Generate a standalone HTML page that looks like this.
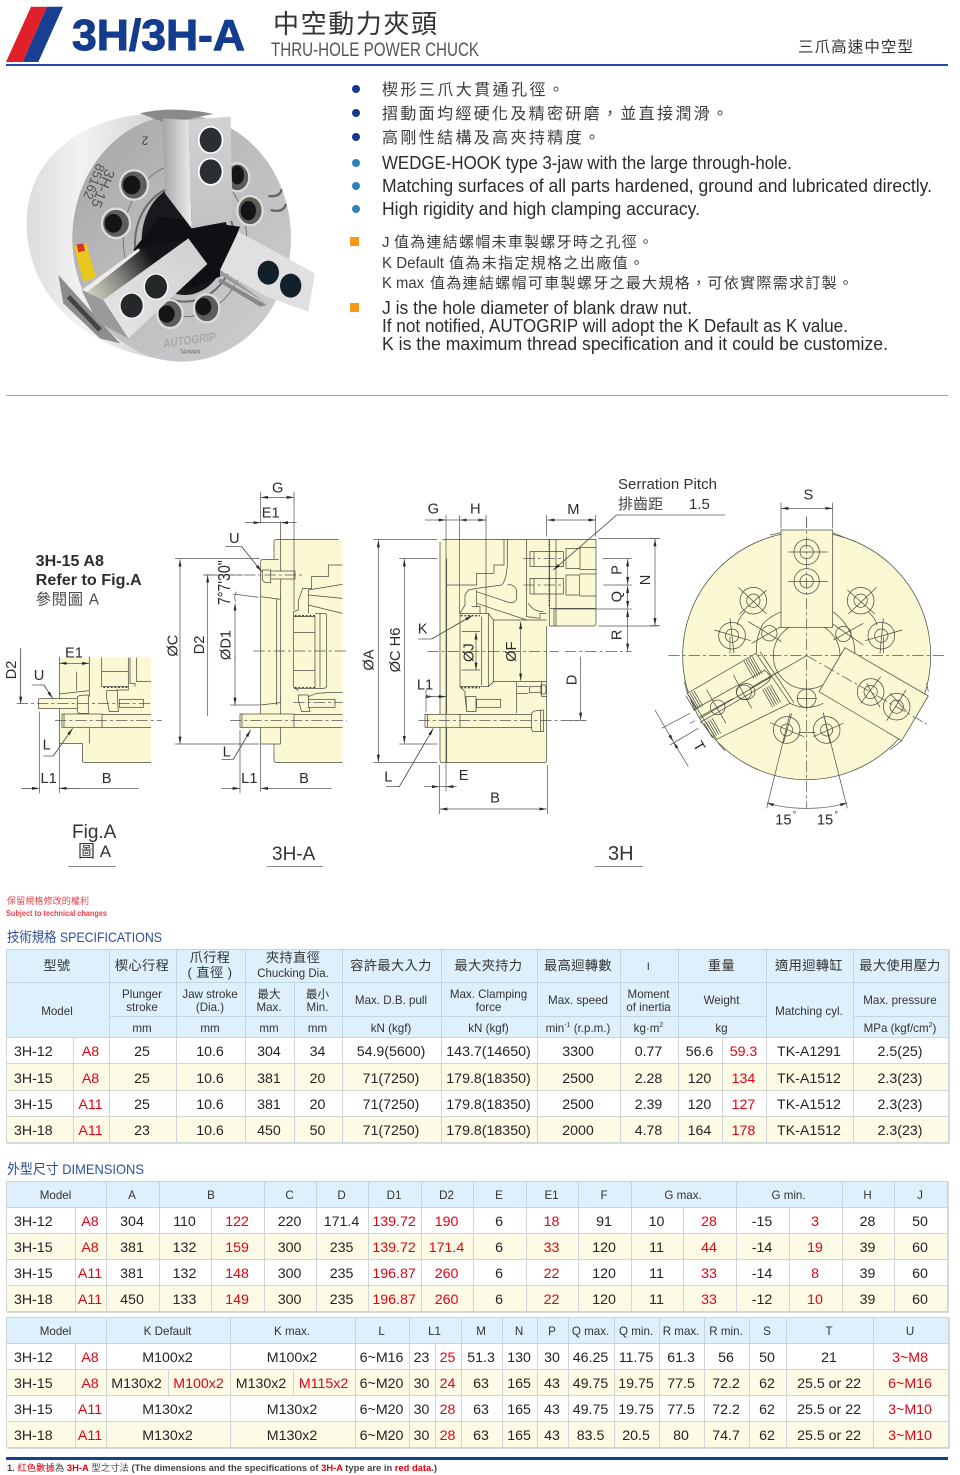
<!DOCTYPE html>
<html><head><meta charset="utf-8"><style>
html,body{margin:0;padding:0;background:#fff}
body{position:relative;width:960px;height:1475px;overflow:hidden;font-family:"Liberation Sans","Noto Sans CJK TC",sans-serif}
svg{position:absolute;left:0;top:0}
svg text{font-family:"Liberation Sans","Noto Sans CJK TC",sans-serif}
.l{stroke:#4a4a42;stroke-width:2.2;fill:none}
.k{stroke:#4a4a42;stroke-width:3;fill:none}
.dm{stroke:#555;stroke-width:2.2;fill:none}
.a{stroke:#555;stroke-width:2.2;fill:none;marker-end:url(#ar);marker-start:url(#ar)}
.e{stroke:#555;stroke-width:2.2;fill:none;marker-end:url(#ar)}
.c{stroke:#555;stroke-width:2.2;fill:none;stroke-dasharray:34 9 9 9}
.b{fill:#fbf9d4}
.i{fill:#fbf9d4;stroke:#4a4a42;stroke-width:2.2}
.t{font-size:44px;fill:#2c2c2c;text-anchor:middle;dominant-baseline:central}
.en{font-size:18px;fill:#2c2c2c}
.zh{font-size:15px;fill:#3c3c3c}
.h1{stroke:#3c3c3c;stroke-width:26;stroke-dasharray:2 5;fill:none}
table{position:absolute;left:6px;border-collapse:collapse;table-layout:fixed;font-size:14.2px;color:#232323;box-shadow:1px 1px 0 #dcdcdc}
td{border:1px solid #d0d6d8;padding:4px 2px 0 0;text-align:center;line-height:1.1;white-space:nowrap;overflow:hidden}
.s td{padding-top:5px}
tr.h td{background:#ddf0fb;font-size:11.6px;color:#333;border-color:#c3d5de}
.s tr.h td{padding-top:4px}
.s tr.z td{font-size:13.2px;letter-spacing:.4px;padding-top:0}
tr.y td{background:#fdfbe6}
.r{color:#e60012}
td.m{text-align:left;padding-left:7px}
sup{font-size:7px;line-height:0}
</style></head><body>
<svg width="960" height="1475" viewBox="0 0 960 1475" xmlns="http://www.w3.org/2000/svg">
<defs>
<marker id="ar" viewBox="0 0 22 9" refX="22" refY="4.5" markerWidth="22" markerHeight="9" markerUnits="userSpaceOnUse" orient="auto-start-reverse"><path d="M0 0L22 4.5L0 9z" fill="#2c2c2c"/></marker>
<linearGradient id="gs" x1="0" y1="0" x2="1" y2="0"><stop offset="0" stop-color="#dcdcdf"/><stop offset=".35" stop-color="#f2f2f3"/><stop offset="1" stop-color="#c9c9cc"/></linearGradient>
<linearGradient id="gf" x1="0" y1="0" x2="1" y2="1"><stop offset="0" stop-color="#a3a3a6"/><stop offset=".45" stop-color="#bcbcbf"/><stop offset="1" stop-color="#cfcfd2"/></linearGradient>
<linearGradient id="gj" x1="0" y1="0" x2="0" y2="1"><stop offset="0" stop-color="#d2d2d4"/><stop offset="1" stop-color="#c2c2c5"/></linearGradient>
<linearGradient id="gk" x1="0" y1="0" x2="1" y2="0"><stop offset="0" stop-color="#a4a4a7"/><stop offset="1" stop-color="#ececee"/></linearGradient>
<linearGradient id="gl" x1="0" y1="1" x2="1" y2="0"><stop offset="0" stop-color="#e6e6e8"/><stop offset="1" stop-color="#cfcfd2"/></linearGradient>
<linearGradient id="gd" gradientUnits="userSpaceOnUse" x1="250" y1="600" x2="440" y2="480"><stop offset="0" stop-color="#d6d6c2"/><stop offset=".45" stop-color="#8e8e88"/><stop offset="1" stop-color="#141518"/></linearGradient>
</defs>

<!-- header -->
<polygon points="6,62 31,6.7 47,6.7 22.7,62" fill="#e0202a"/>
<polygon points="22.7,62 47,6.7 63,6.7 38.3,62" fill="#173f92"/>
<text x="72" y="50" font-size="44" font-weight="700" fill="#133c8f" stroke="#133c8f" stroke-width="1" textLength="173" lengthAdjust="spacingAndGlyphs">3H/3H-A</text>
<text x="273" y="33" font-size="26" fill="#333" textLength="164">中空動力夾頭</text>
<text x="271" y="56" font-size="19" fill="#555" textLength="208" lengthAdjust="spacingAndGlyphs">THRU-HOLE POWER CHUCK</text>
<text x="798" y="52" font-size="15.5" fill="#333" textLength="115">三爪高速中空型</text>
<rect x="6" y="64" width="942" height="2" fill="#234a9c"/>

<!-- bullets -->
<circle cx="356" cy="89" r="4" fill="#14398f"/><circle cx="356" cy="113" r="4" fill="#14398f"/><circle cx="356" cy="137" r="4" fill="#14398f"/>
<circle cx="356" cy="163" r="4" fill="#2f82b7"/><circle cx="356" cy="186" r="4" fill="#2f82b7"/><circle cx="356" cy="209" r="4" fill="#2f82b7"/>
<rect x="350" y="237" width="9" height="9" fill="#f59a12"/><rect x="350" y="303" width="9" height="9" fill="#f59a12"/>
<text x="382" y="95" font-size="16" fill="#3c3c3c" textLength="182">楔形三爪大貫通孔徑。</text>
<text x="382" y="119" font-size="16" fill="#3c3c3c" textLength="346">摺動面均經硬化及精密研磨，並直接潤滑。</text>
<text x="382" y="143" font-size="16" fill="#3c3c3c" textLength="218">高剛性結構及高夾持精度。</text>
<text class="en" x="382" y="169" textLength="410" lengthAdjust="spacingAndGlyphs">WEDGE-HOOK type 3-jaw with the large through-hole.</text>
<text class="en" x="382" y="192" textLength="550" lengthAdjust="spacingAndGlyphs">Matching surfaces of all parts hardened, ground and lubricated directly.</text>
<text class="en" x="382" y="215" textLength="318" lengthAdjust="spacingAndGlyphs">High rigidity and high clamping accuracy.</text>
<text class="zh" x="382" y="247">J</text>
<text class="zh" x="394" y="247" textLength="259">值為連結螺帽未車製螺牙時之孔徑。</text>
<text x="382" y="268" font-size="16" fill="#3c3c3c" textLength="62" lengthAdjust="spacingAndGlyphs">K Default</text>
<text class="zh" x="449" y="268" textLength="195">值為未指定規格之出廠值。</text>
<text x="382" y="288" font-size="16" fill="#3c3c3c" textLength="42" lengthAdjust="spacingAndGlyphs">K max</text>
<text class="zh" x="430" y="288" textLength="423">值為連結螺帽可車製螺牙之最大規格，可依實際需求訂製。</text>
<text class="en" x="382" y="314" textLength="310" lengthAdjust="spacingAndGlyphs">J is the hole diameter of blank draw nut.</text>
<text class="en" x="382" y="332" textLength="466" lengthAdjust="spacingAndGlyphs">If not notified, AUTOGRIP will adopt the K Default as K value.</text>
<text class="en" x="382" y="350" textLength="506" lengthAdjust="spacingAndGlyphs">K is the maximum thread specification and it could be customize.</text>
<rect x="6" y="395" width="942" height="1" fill="#8fa5ba"/>

<!-- photo -->
<g transform="translate(0 90) scale(.33333)">
<path d="M545 72C300 50 80 170 80 400C80 610 250 795 545 815Z" fill="url(#gs)"/>
<path d="M175 555L360 760L300 745L190 640Z" fill="#8d8d90"/>
<ellipse cx="545" cy="445" rx="328" ry="370" fill="url(#gf)"/>
<path d="M420 70C480 55 560 55 640 72L500 100Z" fill="#8a8a8d"/>
<path d="M205 620L300 720" stroke="#444" stroke-width="14" fill="none"/>
<ellipse cx="555" cy="460" rx="150" ry="175" fill="none" stroke="#6a6a6d" stroke-width="6"/>
<ellipse cx="555" cy="450" rx="185" ry="230" fill="none" stroke="#77777a" stroke-width="3"/>
<ellipse cx="555" cy="450" rx="130" ry="165" fill="#17191c"/>
<path d="M480 380L720 410L660 560L560 600L400 480Z" fill="#0e1013"/>
<g fill="#5d5d5a" stroke="#dcdcdc" stroke-width="7">
<ellipse cx="402" cy="285" rx="42" ry="44"/><ellipse cx="348" cy="400" rx="42" ry="44"/><ellipse cx="712" cy="262" rx="36" ry="42"/><ellipse cx="750" cy="362" rx="38" ry="44"/><ellipse cx="510" cy="672" rx="38" ry="42"/><ellipse cx="620" cy="655" rx="38" ry="42"/>
</g>
<g fill="#121416">
<ellipse cx="395" cy="285" rx="26" ry="28"/><ellipse cx="340" cy="400" rx="26" ry="28"/><ellipse cx="712" cy="255" rx="20" ry="28"/><ellipse cx="745" cy="362" rx="23" ry="29"/><ellipse cx="500" cy="672" rx="24" ry="26"/><ellipse cx="610" cy="650" rx="24" ry="26"/>
</g>
<polygon points="222,468 258,458 288,562 250,575" fill="#e8c81e"/>
<polygon points="230,464 250,460 255,482 235,487" fill="#d9332a"/>
<!-- top jaw -->
<polygon points="487,85 565,90 575,415 495,310" fill="url(#gk)"/>
<polygon points="565,90 692,80 698,392 575,415" fill="url(#gj)"/>
<ellipse cx="632" cy="150" rx="38" ry="42" fill="#fff"/><ellipse cx="632" cy="150" rx="33" ry="37" fill="#2a2f33"/>
<ellipse cx="632" cy="245" rx="38" ry="42" fill="#fff"/><ellipse cx="632" cy="245" rx="33" ry="37" fill="#2a2f33"/>
<!-- left jaw -->
<polygon points="245,600 415,475 565,445 310,630" fill="url(#gd)"/>
<polygon points="245,600 415,475 420,482 262,606" fill="#ececec"/>
<polygon points="310,630 565,445 622,522 385,745" fill="url(#gl)"/>
<polygon points="245,600 310,630 385,745 290,695" fill="#9a9a9d"/>
<ellipse cx="395" cy="647" rx="38" ry="40" fill="#f4f4f4"/><ellipse cx="395" cy="647" rx="33" ry="36" fill="#25282b"/>
<ellipse cx="468" cy="590" rx="38" ry="40" fill="#f4f4f4"/><ellipse cx="468" cy="590" rx="33" ry="36" fill="#25282b"/>
<!-- right jaw -->
<polygon points="660,555 800,640 690,560 660,540" fill="#9a9a9d"/>
<polygon points="660,540 715,425 945,550 925,665 800,620" fill="#e0e0e3"/>
<polygon points="660,565 800,645 780,650 655,575" fill="#88888b"/>
<ellipse cx="805" cy="548" rx="32" ry="36" fill="#11202b"/>
<ellipse cx="872" cy="587" rx="32" ry="36" fill="#11202b"/>
<text x="570" y="762" font-size="36" font-weight="700" font-style="italic" fill="#a8a8ac" text-anchor="middle" transform="rotate(-8 570 762)" textLength="160" lengthAdjust="spacingAndGlyphs">AUTOGRIP</text>
<text x="570" y="790" font-size="16" fill="#666" text-anchor="middle">TAIWAN</text>
<text x="295" y="290" font-size="44" fill="#555" transform="rotate(112 295 290)" text-anchor="middle">3H-15</text>
<text x="270" y="270" font-size="40" fill="#555" transform="rotate(112 270 270)" text-anchor="middle">85162</text>
<text x="435" y="140" font-size="36" fill="#444" transform="rotate(180 435 140)" text-anchor="middle">2</text>
<path d="M805 318Q840 322 845 298M812 360Q850 370 858 342" stroke="#666" stroke-width="7" fill="none"/>
</g>

<!-- left group -->
<g transform="translate(0 470) scale(.33333)">
<text x="107" y="288" font-size="48" font-weight="700" fill="#2e2e2e" textLength="205" lengthAdjust="spacingAndGlyphs">3H-15 A8</text>
<text x="107" y="345" font-size="48" font-weight="700" fill="#2e2e2e" textLength="318" lengthAdjust="spacingAndGlyphs">Refer to Fig.A</text>
<text x="107" y="403" font-size="46" fill="#4a4a4a" textLength="190">參閱圖 A</text>

<!-- Fig A -->
<path class="b" d="M178 563H453V878H254Q247 878 247 871V820H178Z"/>
<path class="l" d="M178 560V820H247V871Q247 878 254 878H453"/>
<path class="l" d="M268 775V820M178 672L268 662M230 605V662M268 560V680"/>
<path class="l" d="M305 563V650H385V563M305 605H385M390 563V640H405V650M410 563V635H453M385 650L385 660L350 660L352 680"/>
<path d="M310 652H385" stroke="#444" stroke-width="4" stroke-dasharray="6 5" fill="none"/>
<path class="i" d="M320 662H352V680L355 725H328L320 685Z"/>
<rect class="i" x="358" y="688" width="72" height="24"/>
<rect class="i" x="116" y="686" width="116" height="30"/>
<path class="i" d="M232 680Q238 675 265 675V730H240Q232 730 232 720Z"/>
<rect class="i" x="186" y="732" width="120" height="40"/>
<path class="l" d="M192 732V772M306 733H453M306 772H453"/>
<path class="c" d="M50 700H450M165 752H485"/>
<path class="a" d="M268 580H178"/>
<path class="dm" d="M62 535V700"/><path class="e" d="M62 535V702"/>
<path class="dm" d="M95 645H132L158 685"/><path class="e" d="M132 646L158 685"/>
<path class="dm" d="M118 725V970M178 820V970"/>
<path class="dm" d="M130 858H160L218 775"/><path class="e" d="M160 858L218 775"/>
<path class="dm" d="M65 955H118M178 955H415"/>
<path class="e" d="M65 955H118"/><path class="e" d="M240 955H178"/>
<text class="t" x="222" y="551">E1</text><text class="t" x="117" y="618">U</text>
<text class="t" transform="rotate(-90 33 600)" x="33" y="600" dy="3">D2</text>
<text class="t" x="140" y="827">L</text><text class="t" x="146" y="927">L1</text><text class="t" x="320" y="927">B</text>

<!-- 3H-A -->
<path class="b" d="M782 268H822V216Q822 208 830 208H1027V878H830Q822 878 822 870V822H782Z"/>
<path class="l" d="M1015 208H830Q822 208 822 216V268M836 268H790Q782 268 782 276V822H842V822M822 822V870Q822 878 830 878H1027"/>
<path class="l" d="M842 155V822M830 385V705M782 380L842 388M782 705L842 698"/>
<path class="l" d="M1027 285H985V320H935V355H908L895 392V420L880 425V650L895 662M925 360V430M925 360L1027 343M925 375L1027 385M925 405L1027 430"/>
<path class="l" d="M882 440H945V655H882M945 430H975Q980 430 980 440V645Q980 655 970 655H945M960 432V652M882 487H945M882 602H945"/>
<path d="M884 437H945M884 653H945" stroke="#444" stroke-width="4" stroke-dasharray="6 5" fill="none"/>
<path class="l" d="M1027 668H980L950 670L925 680"/>
<path class="i" d="M895 675H925V690L930 725H905L895 690Z"/>
<rect class="i" x="925" y="688" width="80" height="24"/>
<rect class="i" x="812" y="303" width="73" height="24"/>
<path class="i" d="M787 300H812V338H795L787 330Z"/>
<rect class="i" x="720" y="732" width="162" height="40"/>
<path class="l" d="M882 733H1027M882 772H1027M726 732V772"/>
<path class="c" d="M610 315H912M760 543H1046M880 698H1027M690 752H1040"/>
<path class="dm" d="M782 65V160M882 65V420"/><path class="a" d="M782 82H882"/>
<path class="a" d="M735 158H782" style="marker-start:none"/><path class="e" d="M890 158H842"/><path class="dm" d="M782 158H842"/>
<path class="dm" d="M525 265H780M525 822H778M610 315H730"/><path class="a" d="M540 268V822"/>
<path class="e" d="M623 505V315"/><path class="dm" d="M623 505V738"/>
<path class="e" d="M705 570V400"/><path class="e" d="M705 560V705"/><path class="dm" d="M690 705H780"/>
<path class="dm" d="M700 372L775 382M710 365Q700 380 707 395"/>
<path class="dm" d="M677 230H725L785 305"/><path class="e" d="M725 230L785 305"/>
<path class="dm" d="M665 868H700L752 780"/><path class="e" d="M700 868L752 780"/>
<path class="dm" d="M720 780V970M782 822V965"/>
<path class="e" d="M665 955H720"/><path class="e" d="M995 955H782"/>
<text class="t" x="833" y="55">G</text><text class="t" x="812" y="130">E1</text><text class="t" x="703" y="207">U</text>
<text class="t" transform="rotate(-90 518 527)" x="518" y="527" dy="3">ØC</text>
<text class="t" transform="rotate(-90 597 525)" x="597" y="525" dy="3">D2</text>
<text class="t" transform="rotate(-90 677 525)" x="677" y="525" dy="3">ØD1</text>
<text class="t" transform="rotate(-90 672 338)" x="672" y="338" style="font-size:52px" textLength="135" lengthAdjust="spacingAndGlyphs">7°7'30"</text>
<text class="t" x="680" y="848">L</text><text class="t" x="748" y="927">L1</text><text class="t" x="912" y="927">B</text>
</g>
<text x="72" y="838" font-size="19" fill="#333">Fig.A</text>
<text x="78" y="857" font-size="17" fill="#333">圖 A</text>
<rect x="68" y="866" width="48" height="1" fill="#888"/>
<text x="272" y="860" font-size="19" fill="#333">3H-A</text>
<rect x="267" y="866" width="56" height="1" fill="#888"/>
<text x="608" y="860" font-size="20" fill="#333">3H</text>
<rect x="595" y="866" width="48" height="1" fill="#888"/>

<!-- 3H -->
<g transform="translate(350 470) scale(.33333)">
<path class="b" d="M278 208H738V460Q738 468 730 468H590V870Q590 878 582 878H278Q270 878 270 870V216Q270 208 278 208Z"/>
<path class="l" d="M290 265V878M270 216V870Q270 878 278 878H582Q590 878 590 870V468M278 208H738V460Q738 468 730 468H598V208"/>
<path class="l" d="M290 345H380V310H432V285H462V208M472 208V280Q470 330 455 345L380 355L355 360L345 375V405L330 430V650L345 665V680L350 720H380"/>
<path class="l" d="M472 345Q490 340 500 360V385Q495 405 470 395L380 365M380 400L530 450M380 360V410M365 410H390V430H330"/>
<path class="l" d="M530 208V440L570 445V430H590"/>
<path class="l" d="M335 485H390M335 600H390M390 430H415V650H390M415 430L430 450V635L415 650M330 650H415M395 440V645"/>
<path class="l" d="M430 450H590M430 635H590M500 635V730M570 635H590"/>
<path d="M332 437H390M332 653H390" stroke="#444" stroke-width="4" stroke-dasharray="6 5" fill="none"/>
<path class="i" d="M348 680H378V725H350Z"/>
<rect class="i" x="380" y="688" width="72" height="24"/>
<rect class="i" x="225" y="733" width="105" height="39"/>
<path class="l" d="M232 733V772M330 734H545M330 772H545"/>
<path class="i" d="M545 730Q550 720 580 720V785H552Q545 785 545 775Z"/>
<path class="l" d="M572 720V785"/>
<rect class="i" x="538" y="650" width="35" height="18"/><path class="i" d="M573 645H585Q592 658 585 672H573Z"/>
<path class="l" d="M500 650H535M500 670H535M575 635V680H590"/>
<!-- jaw bolts -->
<path class="l" d="M540 245H640V290H540ZM540 325H640V372H540ZM552 245V290M552 325V372"/>
<path class="l" d="M648 235H690V295H648ZM648 315H688V375H648ZM688 232H738M688 298H738M688 312H738M688 378H738"/>
<path class="l" d="M600 415H737M618 208V468M535 400Q550 425 580 425M612 415V468"/>
<path d="M598 208V410" stroke="#444" stroke-width="5" stroke-dasharray="3 4" fill="none"/>
<path class="c" d="M520 265H640M520 345H640M232 545H625M645 545H845M205 752H710"/>
<!-- dims -->
<path class="dm" d="M70 208H262M70 878H262M148 265H262M148 822H262"/>
<path class="a" d="M85 210V876"/><path class="a" d="M163 267V820"/>
<path class="dm" d="M288 135V965M328 135V430M408 135V430M590 135V200M737 135V200"/>
<path class="e" d="M225 150H288"/><path class="dm" d="M288 150H328"/><path class="e" d="M355 150H328"/><path class="e" d="M380 150H408"/><path class="dm" d="M328 150H408"/>
<path class="a" d="M592 150H737"/>
<path class="dm" d="M745 205H925M745 468H925M758 265H845M760 345H845M612 417H845"/>
<path class="a" d="M915 207V466"/><path class="a" d="M833 267V343"/><path class="a" d="M833 347V415"/><path class="a" d="M833 419V543"/>
<path class="dm" d="M660 752H705"/><path class="e" d="M692 560V750"/>
<path class="a" d="M378 487V600"/><path class="a" d="M512 455V632"/>
<path class="dm" d="M205 507H245L365 437"/><path class="e" d="M245 507L367 437"/>
<path class="dm" d="M108 950H148L250 775"/><path class="e" d="M148 950L250 775"/>
<path class="dm" d="M228 660V725"/><path class="e" d="M228 680H250"/><path class="dm" d="M228 680H288"/><path class="e" d="M265 680H288"/>
<path class="e" d="M222 950H268"/><path class="dm" d="M268 950H288"/><path class="e" d="M320 950H288"/>
<path class="dm" d="M268 885V1032M592 885V1032"/><path class="a" d="M270 1017H590"/>
<path class="dm" d="M1125 135H800L610 300"/><path class="e" d="M800 135L610 300"/>
<text class="t" x="250" y="118">G</text><text class="t" x="376" y="118">H</text><text class="t" x="670" y="120">M</text>
<text class="t" transform="rotate(-90 55 570)" x="55" y="570" dy="3">ØA</text>
<text class="t" transform="rotate(-90 135 540)" x="135" y="540" dy="3">ØC H6</text>
<text class="t" x="218" y="478">K</text>
<text class="t" transform="rotate(-90 355 548)" x="355" y="548" dy="3">ØJ</text>
<text class="t" transform="rotate(-90 483 545)" x="483" y="545" dy="3">ØF</text>
<text class="t" x="225" y="647">L1</text><text class="t" x="115" y="922">L</text><text class="t" x="341" y="918">E</text><text class="t" x="435" y="986">B</text>
<text class="t" transform="rotate(-90 665 630)" x="665" y="630" dy="3">D</text>
<text class="t" transform="rotate(-90 800 300)" x="800" y="300" dy="3">P</text>
<text class="t" transform="rotate(-90 800 380)" x="800" y="380" dy="3">Q</text>
<text class="t" transform="rotate(-90 800 495)" x="800" y="495" dy="3">R</text>
<text class="t" transform="rotate(-90 885 330)" x="885" y="330" dy="3">N</text>
</g>
<text x="618" y="489" font-size="15" fill="#333" textLength="99">Serration Pitch</text>
<text x="618" y="509" font-size="15" fill="#444">排齒距</text>
<text x="689" y="509" font-size="15" fill="#333">1.5</text>

<!-- front view -->
<g transform="translate(650 480) scale(.33333)">
<circle cx="470" cy="527" r="372" class="i"/>
<path class="dm" d="M360 165L393 158M548 158L590 175M103 605L112 640M205 790L225 812M835 635L830 610M755 782L720 810"/>
<path class="c" d="M55 527H885M470 110V985"/>
<path class="l" d="M340 430A155 155 0 0 1 395 395M548 395A155 155 0 0 1 615 520M320 520A155 155 0 0 1 340 430M420 670Q470 695 520 670"/>
<circle cx="470" cy="527" r="100" class="l"/>
<path class="l" d="M285 395Q262 420 262 435M655 395Q680 420 680 435M445 758H495"/>
<path class="dm" d="M240 470V520M700 470V520"/>
<!-- bolts -->
<g class="l">
<circle cx="310" cy="362" r="40"/><circle cx="310" cy="362" r="20"/><circle cx="246" cy="467" r="40"/><circle cx="246" cy="467" r="20"/>
<circle cx="632" cy="362" r="40"/><circle cx="632" cy="362" r="20"/><circle cx="694" cy="467" r="40"/><circle cx="694" cy="467" r="20"/>
<circle cx="410" cy="750" r="40"/><circle cx="410" cy="750" r="18"/><circle cx="530" cy="750" r="40"/><circle cx="530" cy="750" r="18"/>
<circle cx="358" cy="460" r="23"/><circle cx="580" cy="462" r="23"/><circle cx="470" cy="655" r="28"/>
<path d="M265 322L350 402M268 402L350 330M192 450L302 482M240 415L252 520M592 330L675 402M680 322L595 402M645 482L757 450M700 415L690 520M360 728L462 770M425 700L400 790M580 730L490 770M520 698L540 790M295 425L395 485M305 490L410 430M550 480L640 430M545 430L640 495M440 655H500M470 625V685"/>
</g>
<!-- jaws -->
<rect class="i" x="393" y="150" width="155" height="292"/>
<g class="l"><circle cx="470" cy="216" r="38"/><circle cx="470" cy="216" r="20"/><circle cx="470" cy="304" r="38"/><circle cx="470" cy="304" r="20"/><path d="M415 216H533M415 304H533"/></g>
<path class="c" d="M470 110V440"/>
<polygon class="i" points="585,503 835,648 755,782 507,635"/>
<g class="l"><circle cx="662" cy="636" r="40"/><circle cx="662" cy="636" r="20"/><circle cx="740" cy="680" r="40"/><circle cx="740" cy="680" r="20"/><path d="M632 670L692 590M690 682L650 610M710 722L768 630M770 695L720 640"/></g>
<path class="c" d="M470 527L830 732"/>
<polygon class="i" points="112,640 318,520 420,670 200,778"/>
<path class="l" d="M130 690L345 570M150 715L365 590M345 572Q370 590 355 605L335 620M335 620L150 728"/>
<path class="l" d="M330 515L432 668"/>
<path class="h1" style="stroke-width:52" d="M120 670L146 655"/>
<path class="h1" style="stroke-width:52" d="M174 752L202 736"/>
<path class="h1" style="stroke-width:60" d="M296 570L324 554"/>
<path class="h1" style="stroke-width:60" d="M352 655L380 639"/>
<g class="l"><circle cx="203" cy="682" r="22"/><circle cx="282" cy="637" r="22"/><ellipse cx="287" cy="635" rx="28" ry="24"/><path d="M170 630L228 730M250 585L305 685M150 710L250 655"/></g>
<path class="l" d="M470 527L300 625M385 575L300 625"/>
<!-- dims -->
<path class="dm" d="M393 68V145M548 68V145M0 175H30M0 437H30"/>
<path class="a" d="M393 85H548"/>
<path class="e" d="M15 690L70 785"/><path class="e" d="M115 860L70 785"/><path class="dm" d="M35 745L120 700M60 795L145 745M120 730L135 722"/>
<path class="dm" d="M420 700L350 985M520 700L592 985"/>
<path class="e" d="M470 985Q400 985 350 968"/><path class="e" d="M470 985Q540 985 592 968"/>
<text class="t" x="475" y="47">S</text>
<text class="t" transform="rotate(60 145 800)" x="145" y="800">T</text>
<text class="t" x="400" y="1022">15</text><text x="428" y="1012" font-size="28" fill="#333">°</text>
<text class="t" x="525" y="1022">15</text><text x="553" y="1012" font-size="28" fill="#333">°</text>
</g>

<!-- captions -->
<text x="7" y="904" font-size="9" fill="#e8414a" textLength="82">保留規格修改的權利</text>
<text x="6" y="916" font-size="8.2" font-weight="700" fill="#e8414a" textLength="101" lengthAdjust="spacingAndGlyphs">Subject to technical changes</text>
<text x="7" y="942" font-size="14" fill="#2d4f9e" textLength="155" lengthAdjust="spacingAndGlyphs">技術規格 SPECIFICATIONS</text>
<text x="7" y="1174" font-size="14" fill="#2d4f9e" textLength="137" lengthAdjust="spacingAndGlyphs">外型尺寸 DIMENSIONS</text>
<rect x="6" y="1457" width="942" height="3" fill="#17408f"/>
<text x="7" y="1471" font-size="9.2" font-weight="700" fill="#444" textLength="430" lengthAdjust="spacingAndGlyphs">1. <tspan fill="#e60012" font-weight="400">紅色數據</tspan><tspan font-weight="400">為 </tspan><tspan fill="#e60012">3H-A</tspan><tspan font-weight="400"> 型之寸法 </tspan>(The dimensions and the specifications of <tspan fill="#e60012">3H-A</tspan> type are in <tspan fill="#e60012">red data</tspan>.)</text>
</svg>

<table class="s" style="top:949px;width:942px;height:193px">
<colgroup><col style="width:67px"><col style="width:36px"><col style="width:67px"><col style="width:69px"><col style="width:49px"><col style="width:48px"><col style="width:99px"><col style="width:96px"><col style="width:83px"><col style="width:58px"><col style="width:44px"><col style="width:44px"><col style="width:87px"><col style="width:95px"></colgroup>
<tr class="h z" style="height:33px"><td colspan="2">型號</td><td>楔心行程</td><td>爪行程<br>( 直徑 )</td><td colspan="2">夾持直徑<br><span style="font-size:11.5px;letter-spacing:0">Chucking Dia.</span></td><td>容許最大入力</td><td>最大夾持力</td><td>最高迴轉數</td><td><span style="font-size:11px">I</span></td><td colspan="2">重量</td><td>適用迴轉缸</td><td>最大使用壓力</td></tr>
<tr class="h" style="height:34px"><td colspan="2" rowspan="2">Model</td><td>Plunger<br>stroke</td><td>Jaw stroke<br>(Dia.)</td><td>最大<br>Max.</td><td>最小<br>Min.</td><td>Max. D.B. pull</td><td>Max. Clamping<br>force</td><td>Max. speed</td><td>Moment<br>of inertia</td><td colspan="2">Weight</td><td rowspan="2">Matching cyl.</td><td>Max. pressure</td></tr>
<tr class="h" style="height:21px"><td>mm</td><td>mm</td><td>mm</td><td>mm</td><td>kN (kgf)</td><td>kN (kgf)</td><td>min<sup>-1</sup> (r.p.m.)</td><td>kg·m<sup>2</sup></td><td colspan="2">kg</td><td>MPa (kgf/cm<sup>2</sup>)</td></tr>
<tr style="height:26px"><td class="m">3H-12</td><td class="r">A8</td><td>25</td><td>10.6</td><td>304</td><td>34</td><td>54.9(5600)</td><td>143.7(14650)</td><td>3300</td><td>0.77</td><td>56.6</td><td class="r">59.3</td><td>TK-A1291</td><td>2.5(25)</td></tr>
<tr class="y" style="height:27px"><td class="m">3H-15</td><td class="r">A8</td><td>25</td><td>10.6</td><td>381</td><td>20</td><td>71(7250)</td><td>179.8(18350)</td><td>2500</td><td>2.28</td><td>120</td><td class="r">134</td><td>TK-A1512</td><td>2.3(23)</td></tr>
<tr style="height:26px"><td class="m">3H-15</td><td class="r">A11</td><td>25</td><td>10.6</td><td>381</td><td>20</td><td>71(7250)</td><td>179.8(18350)</td><td>2500</td><td>2.39</td><td>120</td><td class="r">127</td><td>TK-A1512</td><td>2.3(23)</td></tr>
<tr class="y" style="height:26px"><td class="m">3H-18</td><td class="r">A11</td><td>23</td><td>10.6</td><td>450</td><td>50</td><td>71(7250)</td><td>179.8(18350)</td><td>2000</td><td>4.78</td><td>164</td><td class="r">178</td><td>TK-A1512</td><td>2.3(23)</td></tr>
</table>

<table style="top:1181px;width:941px;height:130px">
<colgroup><col style="width:69px"><col style="width:31px"><col style="width:53px"><col style="width:52px"><col style="width:53px"><col style="width:52px"><col style="width:52px"><col style="width:53px"><col style="width:52px"><col style="width:53px"><col style="width:52px"><col style="width:53px"><col style="width:52px"><col style="width:53px"><col style="width:53px"><col style="width:53px"><col style="width:52px"><col style="width:53px"></colgroup>
<tr class="h" style="height:26px"><td colspan="2">Model</td><td>A</td><td colspan="2">B</td><td>C</td><td>D</td><td>D1</td><td>D2</td><td>E</td><td>E1</td><td>F</td><td colspan="2">G max.</td><td colspan="2">G min.</td><td>H</td><td>J</td></tr>
<tr style="height:26px"><td class="m">3H-12</td><td class="r">A8</td><td>304</td><td>110</td><td class="r">122</td><td>220</td><td>171.4</td><td class="r">139.72</td><td class="r">190</td><td>6</td><td class="r">18</td><td>91</td><td>10</td><td class="r">28</td><td>-15</td><td class="r">3</td><td>28</td><td>50</td></tr>
<tr class="y" style="height:26px"><td class="m">3H-15</td><td class="r">A8</td><td>381</td><td>132</td><td class="r">159</td><td>300</td><td>235</td><td class="r">139.72</td><td class="r">171.4</td><td>6</td><td class="r">33</td><td>120</td><td>11</td><td class="r">44</td><td>-14</td><td class="r">19</td><td>39</td><td>60</td></tr>
<tr style="height:26px"><td class="m">3H-15</td><td class="r">A11</td><td>381</td><td>132</td><td class="r">148</td><td>300</td><td>235</td><td class="r">196.87</td><td class="r">260</td><td>6</td><td class="r">22</td><td>120</td><td>11</td><td class="r">33</td><td>-14</td><td class="r">8</td><td>39</td><td>60</td></tr>
<tr class="y" style="height:26px"><td class="m">3H-18</td><td class="r">A11</td><td>450</td><td>133</td><td class="r">149</td><td>300</td><td>235</td><td class="r">196.87</td><td class="r">260</td><td>6</td><td class="r">22</td><td>120</td><td>11</td><td class="r">33</td><td>-12</td><td class="r">10</td><td>39</td><td>60</td></tr>
</table>

<table style="top:1317px;width:942px;height:130px">
<colgroup><col style="width:69px"><col style="width:31px"><col style="width:62px"><col style="width:62px"><col style="width:63px"><col style="width:62px"><col style="width:54px"><col style="width:26px"><col style="width:26px"><col style="width:41px"><col style="width:35px"><col style="width:31px"><col style="width:46px"><col style="width:45px"><col style="width:45px"><col style="width:45px"><col style="width:37px"><col style="width:87px"><col style="width:75px"></colgroup>
<tr class="h" style="height:26px"><td colspan="2">Model</td><td colspan="2">K Default</td><td colspan="2">K max.</td><td>L</td><td colspan="2">L1</td><td>M</td><td>N</td><td>P</td><td>Q max.</td><td>Q min.</td><td>R max.</td><td>R min.</td><td>S</td><td>T</td><td>U</td></tr>
<tr style="height:26px"><td class="m">3H-12</td><td class="r">A8</td><td colspan="2">M100x2</td><td colspan="2">M100x2</td><td>6~M16</td><td>23</td><td class="r">25</td><td>51.3</td><td>130</td><td>30</td><td>46.25</td><td>11.75</td><td>61.3</td><td>56</td><td>50</td><td>21</td><td class="r">3~M8</td></tr>
<tr class="y" style="height:26px"><td class="m">3H-15</td><td class="r">A8</td><td>M130x2</td><td class="r">M100x2</td><td>M130x2</td><td class="r">M115x2</td><td>6~M20</td><td>30</td><td class="r">24</td><td>63</td><td>165</td><td>43</td><td>49.75</td><td>19.75</td><td>77.5</td><td>72.2</td><td>62</td><td>25.5 or 22</td><td class="r">6~M16</td></tr>
<tr style="height:26px"><td class="m">3H-15</td><td class="r">A11</td><td colspan="2">M130x2</td><td colspan="2">M130x2</td><td>6~M20</td><td>30</td><td class="r">28</td><td>63</td><td>165</td><td>43</td><td>49.75</td><td>19.75</td><td>77.5</td><td>72.2</td><td>62</td><td>25.5 or 22</td><td class="r">3~M10</td></tr>
<tr class="y" style="height:26px"><td class="m">3H-18</td><td class="r">A11</td><td colspan="2">M130x2</td><td colspan="2">M130x2</td><td>6~M20</td><td>30</td><td class="r">28</td><td>63</td><td>165</td><td>43</td><td>83.5</td><td>20.5</td><td>80</td><td>74.7</td><td>62</td><td>25.5 or 22</td><td class="r">3~M10</td></tr>
</table>
</body></html>
